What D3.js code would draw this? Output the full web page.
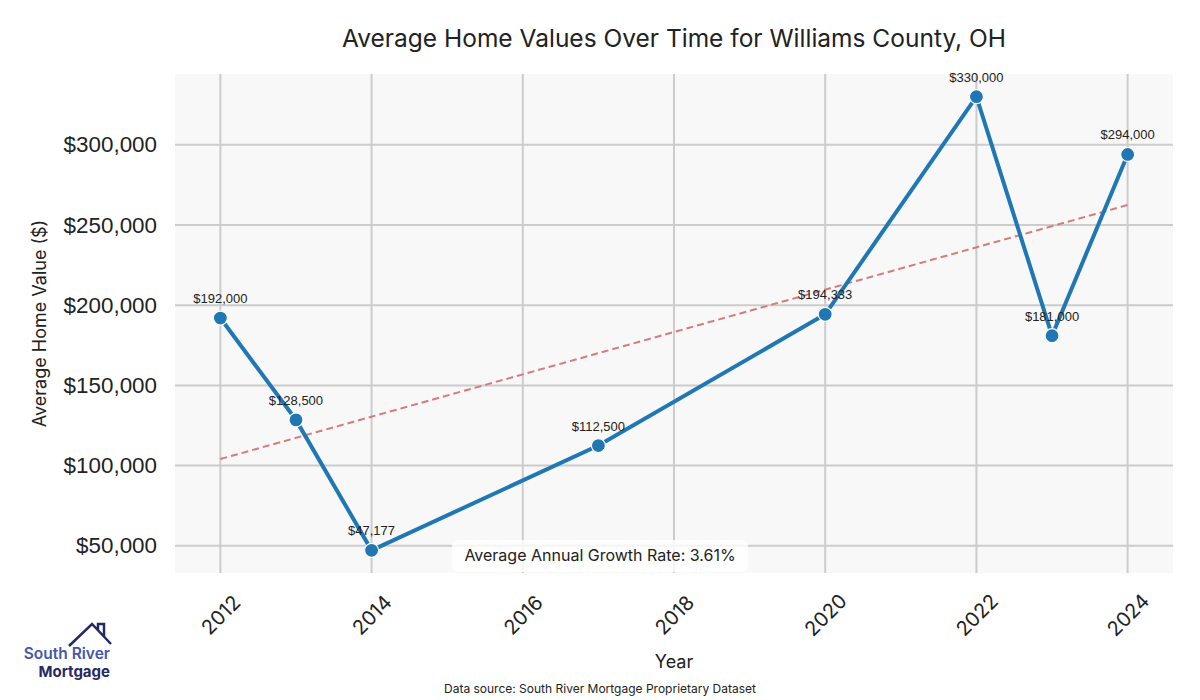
<!DOCTYPE html>
<html>
<head>
<meta charset="utf-8">
<script src="https://cdn.jsdelivr.net/npm/d3@7"></script>
<style>
  body { margin: 0; background: #fff; }
  svg { display: block; }
</style>
</head>
<body>
<div id="the_chart"></div>
<script>
var years = [2012, 2013, 2014, 2017, 2020, 2022, 2023, 2024];
var values = [192000, 128500, 47177, 112500, 194333, 330000, 181000, 294000];
var yTicks = [50000, 100000, 150000, 200000, 250000, 300000];
var xTicks = [2012, 2014, 2016, 2018, 2020, 2022, 2024];
var growthRate = "3.61%";

var w = 1200, h = 700;
var pLeft = 175, pRight = 1173, pTop = 74, pBottom = 573;

var svg = d3.select("#the_chart").append("svg")
    .attr("width", w)
    .attr("height", h);

var data = years.map(function (y, i) { return { year: y, value: values[i] }; });

// 5% padding like matplotlib
var xmin = d3.min(years), xmax = d3.max(years);
var xpad = (xmax - xmin) * 0.05;
var ymin = d3.min(values), ymax = d3.max(values);
var ypad = (ymax - ymin) * 0.05;

var xscale = d3.scaleLinear()
    .domain([xmin - xpad, xmax + xpad])
    .range([pLeft, pRight]);
var yscale = d3.scaleLinear()
    .domain([ymin - ypad, ymax + ypad])
    .range([pBottom, pTop]);

svg.append("rect")
    .attr("x", pLeft).attr("y", pTop)
    .attr("width", pRight - pLeft).attr("height", pBottom - pTop)
    .attr("fill", "#f8f8f8");

// grid
svg.append("g").selectAll("line")
    .data(yTicks)
  .enter().append("line")
    .attr("x1", pLeft).attr("x2", pRight)
    .attr("y1", function (d) { return yscale(d); })
    .attr("y2", function (d) { return yscale(d); })
    .attr("stroke", "#cccccc").attr("stroke-width", 2);
svg.append("g").selectAll("line")
    .data(xTicks)
  .enter().append("line")
    .attr("y1", pTop).attr("y2", pBottom)
    .attr("x1", function (d) { return xscale(d); })
    .attr("x2", function (d) { return xscale(d); })
    .attr("stroke", "#cccccc").attr("stroke-width", 2);

// axes (no lines, just labels)
var yaxis = d3.axisLeft(yscale)
    .tickValues(yTicks)
    .tickSize(0)
    .tickPadding(18)
    .tickFormat(function (d) { return "$" + d3.format(",")(d); });
var gy = svg.append("g")
    .attr("transform", "translate(" + pLeft + ",0)")
    .call(yaxis);
gy.select(".domain").remove();
gy.selectAll("text")
    .attr("font-family", "'Liberation Sans', Arial, sans-serif")
    .attr("font-size", 22.4)
    .attr("fill", "#222");

var xaxis = d3.axisBottom(xscale)
    .tickValues(xTicks)
    .tickSize(0)
    .tickFormat(d3.format("d"));
var gx = svg.append("g")
    .attr("transform", "translate(0," + pBottom + ")")
    .call(xaxis);
gx.select(".domain").remove();
gx.selectAll("text")
    .attr("font-family", "Inter, 'Open Sans', sans-serif")
    .attr("font-size", 20)
    .attr("fill", "#222")
    .attr("text-anchor", "middle")
    .attr("dy", "0.35em")
    .attr("y", 0)
    .attr("transform", "translate(0,42) rotate(-45)");

// trend line (least squares)
var mx = d3.mean(years), my = d3.mean(values);
var sxy = d3.sum(data, function (d) { return (d.year - mx) * (d.value - my); });
var sxx = d3.sum(years, function (y) { return (y - mx) * (y - mx); });
var slope = sxy / sxx, icpt = my - slope * mx;
svg.append("line")
    .attr("x1", xscale(xmin)).attr("y1", yscale(icpt + slope * xmin))
    .attr("x2", xscale(xmax)).attr("y2", yscale(icpt + slope * xmax))
    .attr("stroke", "#d77a7c")
    .attr("stroke-width", 2)
    .attr("stroke-dasharray", "7,4");

// main line
var line = d3.line()
    .x(function (d) { return xscale(d.year); })
    .y(function (d) { return yscale(d.value); });
svg.append("path")
    .datum(data)
    .attr("d", line)
    .attr("fill", "none")
    .attr("stroke", "#1f77b4")
    .attr("stroke-width", 4);

svg.selectAll("circle")
    .data(data)
  .enter().append("circle")
    .attr("cx", function (d) { return xscale(d.year); })
    .attr("cy", function (d) { return yscale(d.value); })
    .attr("r", 7)
    .attr("fill", "#1f77b4")
    .attr("stroke", "#fff")
    .attr("stroke-width", 1.2);

svg.selectAll(".vlabel")
    .data(data)
  .enter().append("text")
    .attr("class", "vlabel")
    .attr("x", function (d) { return xscale(d.year); })
    .attr("y", function (d) { return yscale(d.value) - 15; })
    .attr("text-anchor", "middle")
    .attr("font-family", "'Liberation Sans', Arial, sans-serif")
    .attr("font-size", 13)
    .attr("fill", "#222")
    .text(function (d) { return "$" + d3.format(",")(d.value); });

// growth rate box
var bx = 600;
svg.append("rect")
    .attr("x", bx - 148).attr("y", 540)
    .attr("width", 296).attr("height", 32)
    .attr("rx", 5)
    .attr("fill", "#fff").attr("fill-opacity", 0.8);
svg.append("text")
    .attr("x", bx).attr("y", 561)
    .attr("text-anchor", "middle")
    .attr("font-family", "Inter, 'Open Sans', sans-serif")
    .attr("font-size", 16)
    .attr("fill", "#222")
    .text("Average Annual Growth Rate: " + growthRate);

// titles
var mid = (pLeft + pRight) / 2;
svg.append("text")
    .attr("x", mid).attr("y", 47)
    .attr("text-anchor", "middle")
    .attr("font-family", "Inter, 'Open Sans', sans-serif")
    .attr("font-size", 24.5)
    .attr("fill", "#222")
    .text("Average Home Values Over Time for Williams County, OH");
svg.append("text")
    .attr("x", mid).attr("y", 668)
    .attr("text-anchor", "middle")
    .attr("font-family", "Inter, 'Open Sans', sans-serif")
    .attr("font-size", 18)
    .attr("fill", "#222")
    .text("Year");
svg.append("text")
    .attr("transform", "translate(46," + ((pTop + pBottom) / 2) + ") rotate(-90)")
    .attr("text-anchor", "middle")
    .attr("font-family", "Inter, 'Open Sans', sans-serif")
    .attr("font-size", 18)
    .attr("fill", "#222")
    .text("Average Home Value ($)");
svg.append("text")
    .attr("x", 600).attr("y", 693)
    .attr("text-anchor", "middle")
    .attr("font-family", "Inter, 'Open Sans', sans-serif")
    .attr("font-size", 12)
    .attr("fill", "#222")
    .text("Data source: South River Mortgage Proprietary Dataset");

// logo
var logo = svg.append("g");
logo.append("path")
    .attr("d", "M69,646 L92,624 L111,644 M98,630 L98,624 L104,624 L104,637")
    .attr("fill", "none")
    .attr("stroke", "#262a63")
    .attr("stroke-width", 2.5);
logo.append("text")
    .attr("x", 110).attr("y", 659)
    .attr("text-anchor", "end")
    .attr("font-family", "Inter, 'Open Sans', sans-serif")
    .attr("font-weight", 600)
    .attr("font-size", 15.5)
    .attr("fill", "#4457a8")
    .text("South River");
logo.append("text")
    .attr("x", 110).attr("y", 677)
    .attr("text-anchor", "end")
    .attr("font-family", "Inter, 'Open Sans', sans-serif")
    .attr("font-weight", 700)
    .attr("font-size", 15)
    .attr("fill", "#262a63")
    .text("Mortgage");
</script>
</body>
</html>
